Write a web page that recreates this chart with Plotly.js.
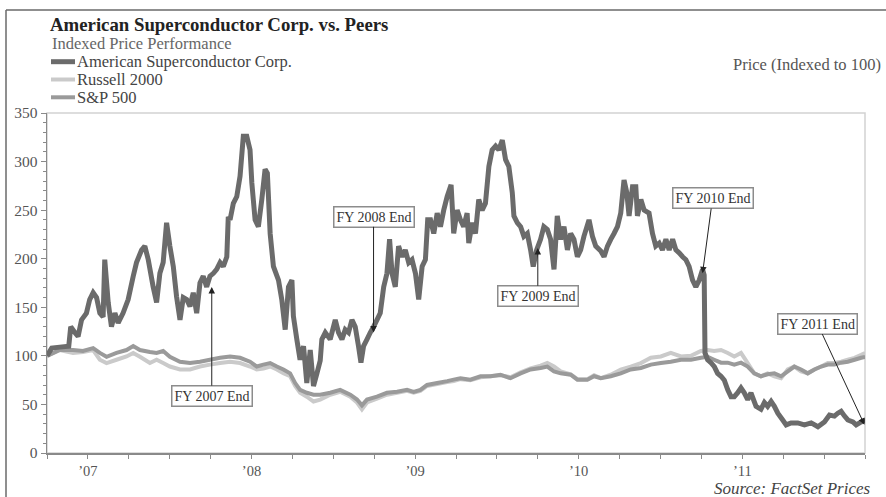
<!DOCTYPE html>
<html>
<head>
<meta charset="utf-8">
<script src="https://cdn.plot.ly/plotly-3.0.1.min.js"></script>
<style>
html,body{margin:0;padding:0;background:#fff;}
#chart{width:886px;height:497px;}
</style>
</head>
<body>
<div id="chart"></div>
<script>
// ---- Data (x = decimal year, y = price indexed to 100) ----
const amscX = [2007.250,2007.279,2007.328,2007.383,2007.395,2007.420,2007.440,2007.461,2007.491,2007.511,
2007.532,2007.553,2007.573,2007.593,2007.603,2007.624,2007.644,2007.665,2007.685,2007.715,
2007.746,2007.777,2007.797,2007.828,2007.848,2007.869,2007.899,2007.920,2007.940,2007.960,
2007.981,2008.001,2008.022,2008.042,2008.063,2008.083,2008.104,2008.124,2008.144,2008.165,
2008.185,2008.205,2008.226,2008.246,2008.267,2008.287,2008.308,2008.328,2008.349,2008.358,
2008.369,2008.389,2008.410,2008.430,2008.450,2008.471,2008.491,2008.502,2008.522,2008.542,
2008.563,2008.583,2008.597,2008.614,2008.634,2008.665,2008.685,2008.706,2008.726,2008.747,
2008.756,2008.777,2008.797,2008.818,2008.838,2008.859,2008.879,2008.900,2008.920,2008.930,
2008.951,2008.981,2009.012,2009.032,2009.053,2009.073,2009.093,2009.114,2009.134,2009.154,
2009.169,2009.185,2009.206,2009.226,2009.246,2009.267,2009.287,2009.308,2009.328,2009.344,
2009.359,2009.379,2009.399,2009.420,2009.440,2009.461,2009.481,2009.502,2009.522,2009.543,
2009.563,2009.577,2009.594,2009.614,2009.635,2009.655,2009.675,2009.696,2009.720,2009.736,
2009.757,2009.777,2009.797,2009.818,2009.828,2009.849,2009.869,2009.889,2009.910,2009.930,
2009.951,2009.971,2009.992,2010.012,2010.033,2010.053,2010.073,2010.094,2010.104,2010.125,
2010.145,2010.165,2010.186,2010.206,2010.222,2010.243,2010.267,2010.287,2010.308,2010.328,
2010.349,2010.369,2010.390,2010.410,2010.431,2010.451,2010.471,2010.492,2010.512,2010.532,
2010.563,2010.584,2010.604,2010.635,2010.655,2010.676,2010.696,2010.716,2010.737,2010.757,
2010.777,2010.794,2010.808,2010.829,2010.849,2010.859,2010.880,2010.900,2010.930,2010.951,
2010.971,2010.992,2011.012,2011.033,2011.053,2011.074,2011.094,2011.114,2011.135,2011.155,
2011.175,2011.196,2011.216,2011.237,2011.257,2011.267,2011.272,2011.288,2011.308,2011.329,
2011.349,2011.370,2011.390,2011.411,2011.431,2011.451,2011.472,2011.492,2011.512,2011.533,
2011.553,2011.584,2011.614,2011.635,2011.655,2011.676,2011.696,2011.717,2011.747,2011.768,
2011.798,2011.839,2011.880,2011.921,2011.962,2012.002,2012.033,2012.063,2012.084,2012.104,
2012.125,2012.145,2012.176,2012.196,2012.227,2012.251];

const amscY = [100,108,109,110,130,124,120,137,144,158,
165,160,144,140,199,155,130,144,134,144,
158,182,196,209,213,199,171,155,185,196,
237,213,192,161,137,160,158,151,165,144,
175,182,171,182,185,189,196,192,202,243,
240,257,264,285,326,326,312,278,240,233,
261,292,288,226,192,178,158,127,171,178,
141,117,96,110,72,106,69,82,95,117,
124,117,137,124,117,127,124,137,130,110,
93,110,117,124,130,137,144,171,185,220,
185,171,213,202,209,196,199,185,158,192,
199,240,240,226,247,233,250,264,276,226,
250,240,233,247,216,237,226,261,250,257,
295,312,316,312,322,302,295,268,244,237,
233,223,226,209,192,209,220,233,230,220,
189,244,220,233,209,226,220,202,209,223,
240,223,213,208,202,213,220,226,233,247,
281,268,244,274,274,244,261,250,247,226,
213,216,209,220,209,220,209,206,202,199,
192,178,171,178,189,183,103,96,93,89,
82,79,75,65,58,58,62,67,62,55,
62,48,45,52,48,53,48,41,34,29,
31,31,29,31,27,32,39,38,41,43,
38,34,32,29,32,34];

const indexX = [2007.250,2007.328,2007.409,2007.470,2007.532,2007.573,2007.614,2007.675,2007.736,2007.777,
2007.818,2007.879,2007.920,2007.960,2008.001,2008.063,2008.124,2008.185,2008.246,2008.308,
2008.369,2008.430,2008.491,2008.532,2008.573,2008.614,2008.655,2008.695,2008.736,2008.767,
2008.797,2008.838,2008.879,2008.920,2008.981,2009.042,2009.104,2009.145,2009.175,2009.206,
2009.267,2009.328,2009.390,2009.451,2009.491,2009.532,2009.573,2009.635,2009.696,2009.736,
2009.777,2009.838,2009.900,2009.961,2010.022,2010.083,2010.145,2010.206,2010.267,2010.308,
2010.349,2010.390,2010.451,2010.492,2010.553,2010.594,2010.635,2010.696,2010.757,2010.818,
2010.880,2010.941,2011.002,2011.063,2011.125,2011.186,2011.247,2011.288,2011.328,2011.370,
2011.411,2011.451,2011.492,2011.533,2011.573,2011.614,2011.655,2011.696,2011.737,2011.778,
2011.818,2011.859,2011.900,2011.941,2011.982,2012.023,2012.063,2012.104,2012.145,2012.186,
2012.227,2012.251];

const russellY = [100,106,103,104,106,96,92.6,96,99.4,103,
99,92.6,96,92.6,89,86,86,89,91,92.6,
94,92.6,89,86,87,89,86,82,79,69,
62,58,53,55,60,63,58,52,45,52,
56,60,62,64,62,64,69,71,73,74,
76,75,78,79,80,78,83,87,90,92.6,
89,84,81,76,76,80,77,80.6,85.8,89,
92.6,98,99.4,103,99.4,100,105,106,105,106,
103,99.4,103,92.6,82,79,82,79,77,86,
89,84,82,86,89,92.6,92.6,94,96,98,
101,103];

const spY = [100,106,106,105,108,103,99,103,106,110,
106,104,103,105,99,94,92.6,94,96,98,
99.4,98,94,89,91,92.6,89,86,82,72,
65,62,60,60,62,65,60,55,49,55,
58,62,63,65,63,65,70,72,74,75.5,
77,75.5,79,79,80.6,77,82,86,87.5,89,
84,82,80.6,75.5,75.5,79,77,79,82,86,
87.5,91,92.6,94,96,96,98,99,96,93,
93,91,93,89,82,79,81,82,79,84,
89,86,82,86,89,91,91,93,94,96,
98,99];

const seriesNames = ['American Superconductor Corp.', 'Russell 2000', 'S&amp;P 500'];
const tickVals = [2007.5, 2008.5, 2009.5, 2010.5, 2011.5];
const tickText = ['\u201907', '\u201908', '\u201909', '\u201910', '\u201911'];
const fyLabels = ['FY 2007 End', 'FY 2008 End', 'FY 2009 End', 'FY 2010 End', 'FY 2011 End'];
const fyX = [2008.257, 2009.246, 2010.250, 2011.257, 2012.247];
const fyY = [171, 124, 211, 185, 29];

// ---- Styling / layout ----
const FONT = '"Liberation Serif", "Times New Roman", Times, serif';
const colors = ['#6b6b6b', '#cacaca', '#9a9a9a'];
const widths = [5, 4, 4];
const M = {l: 47, r: 21, t: 113, b: 44};
const W = 886, H = 497;
const PW = W - M.l - M.r, PH = H - M.t - M.b;
const pxX = p => (p - M.l) / PW;          // page pixel -> paper x
const pxY = p => 1 + (M.t - p) / PH;      // page pixel -> paper y
const fyOffsets = [[0, 109], [0, -116], [0, 48], [10, -75], [-47, -101]];

const traces = [
  {x: indexX, y: russellY, name: seriesNames[1], type: 'scatter', mode: 'lines',
   line: {color: colors[1], width: widths[1], simplify: false}, showlegend: false, hoverinfo: 'skip'},
  {x: indexX, y: spY, name: seriesNames[2], type: 'scatter', mode: 'lines',
   line: {color: colors[2], width: widths[2], simplify: false}, showlegend: false, hoverinfo: 'skip'},
  {x: amscX, y: amscY, name: seriesNames[0], type: 'scatter', mode: 'lines',
   line: {color: colors[0], width: widths[0], simplify: false}, showlegend: false, hoverinfo: 'skip'}
];

const annotations = [];
const shapes = [];

// subtitle
annotations.push({xref: 'paper', yref: 'paper', x: pxX(50), y: pxY(43), xanchor: 'left', yanchor: 'middle',
  text: 'Indexed Price Performance', showarrow: false, font: {family: FONT, size: 16.5, color: '#666'}});
// right label
annotations.push({xref: 'paper', yref: 'paper', x: pxX(883), y: pxY(64), xanchor: 'right', yanchor: 'middle',
  text: 'Price (Indexed to 100)', showarrow: false, font: {family: FONT, size: 16.5, color: '#555'}});
// source
annotations.push({xref: 'paper', yref: 'paper', x: pxX(712), y: pxY(488), xanchor: 'left', yanchor: 'middle',
  text: 'Source: FactSet Prices', showarrow: false, font: {family: FONT, size: 17, color: '#444', style: 'italic'}});

// manual legend
const legendRows = [61.7, 79.5, 97.3];
[0, 1, 2].forEach(i => {
  shapes.push({type: 'line', xref: 'paper', yref: 'paper', x0: pxX(51), x1: pxX(75), y0: pxY(legendRows[i]), y1: pxY(legendRows[i]),
    line: {color: colors[i], width: widths[i]}});
  annotations.push({xref: 'paper', yref: 'paper', x: pxX(75), y: pxY(legendRows[i]), xanchor: 'left', yanchor: 'middle',
    text: seriesNames[i], showarrow: false, font: {family: FONT, size: 16.5, color: '#444'}});
});

// fiscal-year callouts
fyLabels.forEach((t, i) => {
  annotations.push({x: fyX[i], y: fyY[i], xref: 'x', yref: 'y', text: t,
    showarrow: true, arrowhead: 2, arrowsize: 1.3, arrowwidth: 1, arrowcolor: '#222',
    ax: fyOffsets[i][0], ay: fyOffsets[i][1], standoff: 0,
    bgcolor: '#fff', bordercolor: '#8c8c8c', borderwidth: 1.5, borderpad: 2,
    font: {family: FONT, size: 14, color: '#333'}});
});

// plot-area frame (top/right light)
shapes.push({type: 'rect', xref: 'paper', yref: 'paper', x0: 0, x1: 1, y0: 0, y1: 1,
  line: {color: '#d2d2d2', width: 1.5}, layer: 'below'});
// outer frame (top + left)
shapes.push({type: 'line', xref: 'paper', yref: 'paper', x0: pxX(6), x1: pxX(950), y0: pxY(10), y1: pxY(10),
  line: {color: '#6a6a6a', width: 1.5}});
shapes.push({type: 'line', xref: 'paper', yref: 'paper', x0: pxX(6), x1: pxX(6), y0: pxY(10), y1: pxY(520),
  line: {color: '#6a6a6a', width: 1.5}});

const axisColor = '#8a8a8a';
const layout = {
  width: W, height: H,
  margin: {l: M.l, r: M.r, t: M.t, b: M.b, autoexpand: false},
  paper_bgcolor: '#fff', plot_bgcolor: '#fff',
  title: {text: 'American Superconductor Corp. vs. Peers', xref: 'container', yref: 'container',
    x: 50 / W, xanchor: 'left', y: 1 - 24 / H, yanchor: 'middle',
    font: {family: FONT, size: 18.8, color: '#222', weight: 700}},
  showlegend: false,
  xaxis: {range: [2007.25, 2012.25], tickmode: 'array', tickvals: tickVals, ticktext: tickText,
    ticks: 'outside', ticklen: 4, tickwidth: 1, tickcolor: axisColor,
    showline: true, linecolor: axisColor, linewidth: 1.5, showgrid: false, zeroline: false,
    tickfont: {family: FONT, size: 14.5, color: '#555'},
    minor: {tickmode: 'linear', tick0: 2007.25, dtick: 0.25, ticks: 'outside', ticklen: 4, tickwidth: 1, tickcolor: axisColor, showgrid: false},
    fixedrange: true},
  yaxis: {range: [0, 350], tickmode: 'linear', tick0: 0, dtick: 50,
    ticks: 'outside', ticklen: 5, tickwidth: 1, tickcolor: axisColor,
    showline: true, linecolor: axisColor, linewidth: 1.5, showgrid: false, zeroline: false,
    tickfont: {family: FONT, size: 15.5, color: '#555'},
    minor: {dtick: 10, ticks: 'outside', ticklen: 3, tickwidth: 1, tickcolor: axisColor, showgrid: false},
    fixedrange: true},
  annotations: annotations,
  shapes: shapes
};

Plotly.newPlot('chart', traces, layout, {displayModeBar: false, staticPlot: true});
</script>
</body>
</html>
